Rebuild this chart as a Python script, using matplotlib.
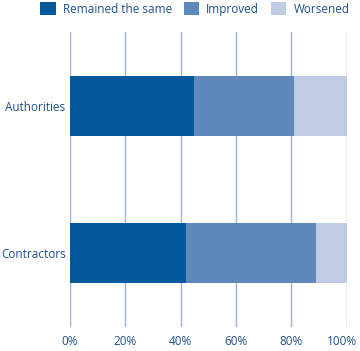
import matplotlib
matplotlib.use("Agg")
import matplotlib.pyplot as plt
import matplotlib.transforms as mtransforms
from matplotlib.patches import Patch

categories = ["Contractors", "Authorities"]
series_names = ["Remained the same", "Improved", "Worsened"]
remained = [42, 45]
improved = [47, 36]
worsened = [11, 19]
tick_labels = ["0%", "20%", "40%", "60%", "80%", "100%"]
tick_vals = [0, 20, 40, 60, 80, 100]

colors = ["#03589B", "#5F89BC", "#C0CCE4"]
text_color = "#1F4F8F"
grid_color = "#9DB2D9"

plt.rcParams['font.family'] = ['Open Sans', 'DejaVu Sans']

fig = plt.figure(figsize=(3.6, 3.51), dpi=100)
ax = fig.add_axes([69.7/360, 1-327/351, (346.7-69.7)/360, (327-32)/351])

y = [0, 1]
h = 0.41
left = [0, 0]
for vals, c in zip([remained, improved, worsened], colors):
    ax.barh(y, vals, left=left, height=h, color=c, zorder=3)
    left = [l + v for l, v in zip(left, vals)]

ax.set_xlim(0, 100)
ax.set_ylim(-0.5, 1.5)
ax.set_xticks(tick_vals)
ax.set_xticklabels(tick_labels, color=text_color, fontsize=8.5)
ax.set_yticks(y)
ax.set_yticklabels(categories, color=text_color, fontsize=8.5)
ax.tick_params(axis='both', length=0)
ax.tick_params(axis='x', pad=6)
ax.tick_params(axis='y', pad=3)
ax.grid(axis='x', color=grid_color, linewidth=1.0, zorder=0)
for s in ax.spines.values():
    s.set_visible(False)

# nudge the last tick label so it stays inside the figure
last = ax.get_xticklabels()[-1]
last.set_transform(last.get_transform() + mtransforms.ScaledTranslation(-5/100, 0, fig.dpi_scale_trans))

handles = [Patch(facecolor=c, edgecolor='none') for c in colors]
fig.legend(handles, series_names, loc='upper left', bbox_to_anchor=(38/360, 1.0),
           ncol=3, frameon=False, fontsize=8.5, labelcolor=text_color,
           handlelength=1.3, handleheight=1.3, handletextpad=0.6,
           columnspacing=1.0, borderaxespad=0.0, borderpad=0.2)

fig.savefig("out.png", dpi=100)
